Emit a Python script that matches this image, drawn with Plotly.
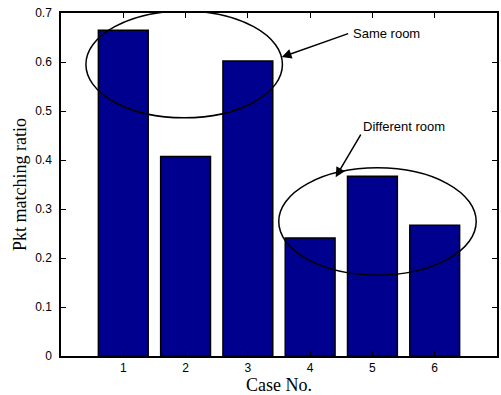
import plotly.graph_objects as go

cases = [1, 2, 3, 4, 5, 6]
ratios = [0.665, 0.407, 0.602, 0.241, 0.367, 0.267]
y_ticks = [0, 0.1, 0.2, 0.3, 0.4, 0.5, 0.6, 0.7]
y_tick_labels = ["0", "0.1", "0.2", "0.3", "0.4", "0.5", "0.6", "0.7"]

fig = go.Figure()
fig.add_trace(go.Bar(
    x=cases, y=ratios, width=0.8,
    marker=dict(color="#00008F", line=dict(color="black", width=1.5)),
))

# ellipses (x0, x1, y0, y1 in data units)
same_room = (0.40, 3.555, 0.486, 0.704)
diff_room = (3.496, 6.666, 0.165, 0.384)
for (x0, x1, y0, y1) in (same_room, diff_room):
    fig.add_shape(type="circle", xref="x", yref="y", x0=x0, x1=x1, y0=y0, y1=y1,
                  line=dict(color="black", width=1.5))

annot_font = dict(family="Liberation Sans, Arial", size=13, color="black")
# arrows
fig.add_annotation(x=3.544, y=0.610, ax=4.634, ay=0.659, axref="x", ayref="y",
                   xref="x", yref="y", text="", showarrow=True,
                   arrowhead=2, arrowsize=1.3, arrowwidth=1.5, arrowcolor="black")
fig.add_annotation(x=4.41, y=0.365, ax=4.827, ay=0.455, axref="x", ayref="y",
                   xref="x", yref="y", text="", showarrow=True,
                   arrowhead=2, arrowsize=1.3, arrowwidth=1.5, arrowcolor="black")
fig.add_annotation(x=4.66, y=0.659, xref="x", yref="y", text="Same room",
                   showarrow=False, xanchor="left", yanchor="middle", font=annot_font)
fig.add_annotation(x=5.5, y=0.469, xref="x", yref="y", text="Different room",
                   showarrow=False, xanchor="center", yanchor="middle", font=annot_font)

tick_font = dict(family="Liberation Sans, Arial", size=12, color="black")
title_font = dict(family="Liberation Serif, Times New Roman", size=18, color="black")

fig.update_xaxes(range=[0, 7], tickvals=cases, ticktext=[str(c) for c in cases],
                 ticks="inside", ticklen=5, tickwidth=1, tickcolor="black",
                 showline=True, linecolor="black", linewidth=1.5, mirror="ticks",
                 showgrid=False, zeroline=False, tickfont=tick_font, automargin=False,
                 title=dict(text="Case No.", font=title_font, standoff=2))
fig.update_yaxes(range=[0, 0.7], tickvals=y_ticks, ticktext=y_tick_labels,
                 ticks="inside", ticklen=5, tickwidth=1, tickcolor="black",
                 showline=True, linecolor="black", linewidth=1.5, mirror="ticks",
                 showgrid=False, zeroline=False, tickfont=tick_font, automargin=False,
                 ticklabelstandoff=5,
                 title=dict(text="Pkt matching ratio", font=title_font, standoff=4))

fig.update_layout(
    width=501, height=395,
    margin=dict(l=61, r=4, t=13, b=39),
    paper_bgcolor="white", plot_bgcolor="white",
    showlegend=False,
)

fig.write_html("out.html", config={"displayModeBar": False},
               post_script="document.body.style.margin='0';document.body.style.overflow='hidden';")
